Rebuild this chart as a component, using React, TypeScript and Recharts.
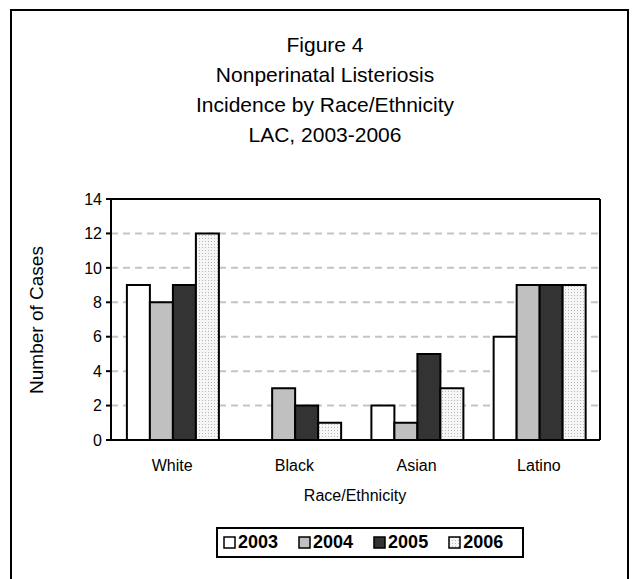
import React from 'react';
import { BarChart, Bar, XAxis, YAxis, CartesianGrid } from 'recharts';

const categories = ['White', 'Black', 'Asian', 'Latino'];
const years = ['2003', '2004', '2005', '2006'];
const cases2003 = [9, 0, 2, 6];
const cases2004 = [8, 3, 1, 9];
const cases2005 = [9, 2, 5, 9];
const cases2006 = [12, 1, 3, 9];
const yTicks = [0, 2, 4, 6, 8, 10, 12, 14];
const titleLines = ['Figure 4', 'Nonperinatal Listeriosis', 'Incidence by Race/Ethnicity', 'LAC, 2003-2006'];

const fills = ['#ffffff', '#c0c0c0', '#333333', 'url(#dots2006)'];

const data = categories.map((c, i) => ({
  name: c,
  '2003': cases2003[i],
  '2004': cases2004[i],
  '2005': cases2005[i],
  '2006': cases2006[i],
}));

const font = '"Liberation Sans", Arial, sans-serif';

const App: React.FC = () => {
  return (
    <div style={{ position: 'absolute', left: 0, top: 0, width: 640, height: 579, background: '#fff', fontFamily: font, overflow: 'hidden' }}>
      {/* outer frame, bottom edge runs off the page */}
      <div style={{ position: 'absolute', left: 10, top: 9, width: 619, height: 600, border: '2px solid #000', boxSizing: 'border-box' }} />

      <div style={{ position: 'absolute', left: 125, width: 400, top: 30, textAlign: 'center', fontSize: 21, lineHeight: '30px', color: '#000' }}>
        {titleLines.map(t => <div key={t}>{t}</div>)}
      </div>

      <div style={{ position: 'absolute', left: 37, top: 320, width: 0, height: 0 }}>
        <div style={{ position: 'absolute', transform: 'translate(-50%, -50%) rotate(-90deg)', whiteSpace: 'nowrap', fontSize: 19, color: '#000' }}>
          Number of Cases
        </div>
      </div>

      <div style={{ position: 'absolute', left: 255, width: 200, top: 487, textAlign: 'center', fontSize: 16, color: '#000' }}>
        Race/Ethnicity
      </div>

      <div style={{ position: 'absolute', left: 216, top: 527, width: 308, height: 31, border: '2px solid #000', boxSizing: 'border-box', display: 'flex', alignItems: 'center', paddingLeft: 5 }}>
        {years.map((y, i) => (
          <div key={y} style={{ display: 'flex', alignItems: 'center', marginRight: 20 }}>
            <svg width={13} height={13} style={{ marginRight: 2 }}>
              <defs>
                <pattern id={`ldots${i}`} width={3} height={3} patternUnits="userSpaceOnUse">
                  <rect width={3} height={3} fill="#f6f6f6" />
                  <rect x={1} y={1} width={1} height={1} fill="#b8b8b8" />
                </pattern>
              </defs>
              <rect x={1} y={1} width={11} height={11} fill={i === 3 ? `url(#ldots${i})` : fills[i]} stroke="#000" strokeWidth={1.5} />
            </svg>
            <span style={{ fontWeight: 'bold', fontSize: 18, color: '#000' }}>{y}</span>
          </div>
        ))}
      </div>

      <div style={{ position: 'absolute', left: 0, top: 0 }}>
        <BarChart
          width={640}
          height={579}
          data={data}
          margin={{ top: 199, right: 40, bottom: 109, left: 0 }}
          barCategoryGap="13%"
          barGap={0}
        >
          <defs>
            <pattern id="dots2006" width={3} height={3} patternUnits="userSpaceOnUse">
              <rect width={3} height={3} fill="#f6f6f6" />
              <rect x={1} y={1} width={1} height={1} fill="#b8b8b8" />
            </pattern>
          </defs>
          <CartesianGrid vertical={false} stroke="#c4c4c4" strokeDasharray="7 5" strokeWidth={2} />
          {/* top and right edges of the plot frame */}
          <CartesianGrid
            stroke="#000"
            strokeWidth={2}
            horizontalCoordinatesGenerator={({ offset }: any) => [offset.top]}
            verticalCoordinatesGenerator={({ offset }: any) => [offset.left + offset.width]}
          />
          <XAxis
            dataKey="name"
            height={30}
            tickLine={false}
            tickSize={0}
            tickMargin={20}
            axisLine={{ stroke: '#000', strokeWidth: 2 }}
            tick={{ fill: '#000', fontSize: 16, fontFamily: font }}
          />
          <YAxis
            width={111}
            domain={[0, 14]}
            ticks={yTicks}
            interval={0}
            tickSize={5}
            tickMargin={4}
            axisLine={{ stroke: '#000', strokeWidth: 2 }}
            tickLine={{ stroke: '#000', strokeWidth: 2 }}
            tick={{ fill: '#000', fontSize: 16, fontFamily: font }}
          />
          {years.map((y, i) => (
            <Bar key={y} dataKey={y} fill={fills[i]} stroke="#000" strokeWidth={2} isAnimationActive={false} />
          ))}
        </BarChart>
      </div>
    </div>
  );
};

export default App;
